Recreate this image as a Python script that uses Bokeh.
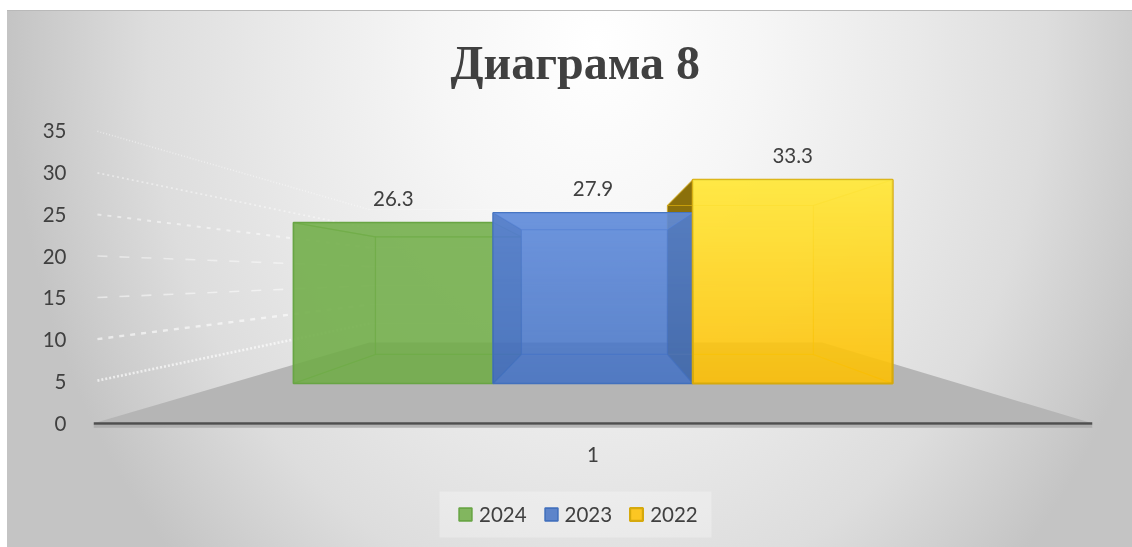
import numpy as np
from bokeh.plotting import figure
from bokeh.embed import file_html
from bokeh.resources import INLINE
from bokeh.models import Range1d, FixedTicker, Legend, LegendItem, ColumnDataSource
from bokeh.core.properties import value

# ---- data
series = ["2024", "2023", "2022"]
values = [26.3, 27.9, 33.3]
category = [1]
y_ticks = [0, 5, 10, 15, 20, 25, 30, 35]
title_text = "Диаграма 8"

# ---- styles
front_colors = ["#70ad47", "#4472c4", "#ffc000"]
edge_colors = ["#68a544", "#4270bd", "#d6a90c"]
side_colors = ["#5f9a3a", "#3a62ac", "#e8b400"]
floor_face = ["#5f9a3a", "#3f68b0", "#e2ae00"]
grid_styles = {5: ("2 2", 2.6, .65), 10: ("5 6", 2.4, .6), 15: ("10 12", 1.6, .5), 20: ("10 12", 1.6, .45),
               25: ("4 6", 2.0, .5), 30: ("2 3", 1.8, .45), 35: ("1 2", 1.6, .45)}
TXT = "#404040"
FONT = "Lato"

# ---- layout of the page, in pixels
FIG_L, FIG_T = 7, 10
FIG_W, FIG_H = 1125, 537
FRAME_L, FRAME_R, FRAME_T, FRAME_B = 76, 1132, 100, 541
PX_PER_X, PX_PER_Y = 998.5, 8.371
X1_PX, Y0_PX = 592.5, 423
LEG_BOX = (439, 711, 491, 537)

def dx(px_x):
    return 1 + (px_x - X1_PX) / PX_PER_X

def dy(px_y):
    return (Y0_PX - px_y) / PX_PER_Y

# ---- perspective of the 3-D box, in data units
VX, VY = 1.0053, 17.68          # vanishing point
BASE, K = 4.778, 0.731          # floor height and value scale of the bar's front plane
S_AXIS, S_FRONT, S_REAR, S_WALL = 1.368, 1.0, 0.731, 0.62
BAR_W = 0.2

def px(x, v, s):
    return VX + s * (x - VX), VY + s * (BASE + K * v - VY)

def face(x0, v0, s0, x1, v1, s1, x2, v2, s2, x3, v3, s3):
    pts = [px(x0, v0, s0), px(x1, v1, s1), px(x2, v2, s2), px(x3, v3, s3)]
    return [a for a, _ in pts], [b for _, b in pts]

p = figure(frame_width=FRAME_R - FRAME_L, frame_height=FRAME_B - FRAME_T,
           min_border_left=FRAME_L - FIG_L, min_border_right=0,
           min_border_top=FRAME_T - FIG_T, min_border_bottom=FIG_T + FIG_H - FRAME_B,
           x_range=Range1d(dx(FRAME_L), dx(FRAME_R)),
           y_range=Range1d(dy(FRAME_B), dy(FRAME_T)),
           output_backend="svg", toolbar_location=None, title=title_text)
p.styles = {
    "position": "fixed", "left": f"{FIG_L}px", "top": f"{FIG_T}px",
    "background": "linear-gradient(#b9b9b9,#b9b9b9) top/100% 1px no-repeat,"
                  "radial-gradient(ellipse 640px 800px at 590px 35px,"
                  "#ffffff 0%,#f6f6f6 25%,#e9e9e9 50%,#dddddd 70%,#cccccc 85%,#c4c4c4 92%,#c4c4c4 100%)",
}
p.background_fill_color = None
p.border_fill_color = None
p.outline_line_color = None
p.grid.visible = False

p.title.text_font = "Liberation Serif"
p.title.text_font_style = "bold"
p.title.text_font_size = "48px"
p.title.text_color = TXT
p.title.align = "left"
p.title.offset = 374
p.title.standoff = 23

ya = p.yaxis[0]
ya.ticker = FixedTicker(ticks=y_ticks)
ya.bounds = (0, 35)
ya.axis_line_color = None
ya.major_tick_line_color = None
ya.minor_tick_line_color = None
ya.major_label_standoff = 4
ya.major_label_text_font = FONT
ya.major_label_text_font_size = "20.5px"
ya.major_label_text_color = TXT

xa = p.xaxis[0]
xa.ticker = FixedTicker(ticks=category)
xa.axis_line_color = None
xa.major_tick_line_color = None
xa.minor_tick_line_color = None
xa.major_label_standoff = 10 - (FRAME_B - 430)
xa.major_label_text_font = FONT
xa.major_label_text_font_size = "20.5px"
xa.major_label_text_color = TXT

# floor
fx0 = VX + (0.5 - VX) / S_AXIS
fx1 = VX + (1.5 - VX) / S_AXIS
xs, ys = face(fx0, 0, S_AXIS, fx1, 0, S_AXIS, fx1, 0, S_WALL, fx0, 0, S_WALL)
p.patch(xs, ys, fill_color="#b5b5b5", line_color=None)

# gridlines on the left wall and on the back wall
for t in y_ticks[1:]:
    d, w, a = grid_styles[t]
    x_a, y_a = px(fx0, t, S_AXIS - 0.01)
    x_b, y_b = px(fx0, t, S_WALL)
    x_c, y_c = px(fx1, t, S_WALL)
    p.line([x_a, x_b], [y_a, y_b], line_color="white", line_alpha=a, line_width=w, line_dash=d)
    p.line([x_b, x_c], [y_b, y_c], line_color="white", line_alpha=0.25, line_width=1)

# axis line and its shadow
ax_x, ax_y = px(fx0, 0, S_AXIS), px(fx1, 0, S_AXIS)
p.line([ax_x[0], ax_y[0]], [-0.33, -0.33], line_color="#a8a8a8", line_width=3, line_alpha=0.8)
p.line([ax_x[0], ax_y[0]], [0, 0], line_color="#4f4f4f", line_width=2.5)

edges = [1 - 0.3 + i * BAR_W for i in range(3)]

def box_back(i, left=True, right=True):
    x0, x1, v = edges[i], edges[i] + BAR_W, values[i]
    c, e, fl = side_colors[i], edge_colors[i], floor_face[i]
    # rear wall
    xs, ys = face(x0, 0, S_REAR, x1, 0, S_REAR, x1, v, S_REAR, x0, v, S_REAR)
    p.patch(xs, ys, fill_color=c, fill_alpha=0.10, line_color=e, line_alpha=0.55, line_width=1.2)
    # floor
    xs, ys = face(x0, 0, S_FRONT, x1, 0, S_FRONT, x1, 0, S_REAR, x0, 0, S_REAR)
    p.patch(xs, ys, fill_color=fl, fill_alpha=0.16, line_color=e, line_alpha=0.55, line_width=1.2)
    # top
    xs, ys = face(x0, v, S_FRONT, x1, v, S_FRONT, x1, v, S_REAR, x0, v, S_REAR)
    p.patch(xs, ys, fill_color=c, fill_alpha=0.10, line_color=e, line_alpha=0.55, line_width=1.2)
    if left:
        xs, ys = face(x0, 0, S_FRONT, x0, v, S_FRONT, x0, v, S_REAR, x0, 0, S_REAR)
        p.patch(xs, ys, fill_color=c, fill_alpha=0.18, line_color=e, line_alpha=0.55, line_width=1.2)
    if right:
        xs, ys = face(x1, 0, S_FRONT, x1, v, S_FRONT, x1, v, S_REAR, x1, 0, S_REAR)
        p.patch(xs, ys, fill_color=c, fill_alpha=0.18, line_color=e, line_alpha=0.55, line_width=1.2)

def side_tint(i, alpha):
    x0, x1, v = edges[i], edges[i] + BAR_W, values[i]
    for x in (x0, x1):
        xs, ys = face(x, 0, S_FRONT, x, v, S_FRONT, x, v, S_REAR, x, 0, S_REAR)
        p.patch(xs, ys, fill_color=side_colors[i], fill_alpha=alpha, line_color=None)

def overlay(i, rgb, amax):
    x0, x1, v = edges[i], edges[i] + BAR_W, values[i]
    _, yb = px(x0, 0, S_FRONT)
    _, yt = px(x0, v, S_FRONT)
    h, w = 64, 64
    yy, xx = np.mgrid[0:h, 0:w] / 63.0
    a = amax * yy
    img = np.zeros((h, w), dtype=np.uint32)
    view = img.view(dtype=np.uint8).reshape((h, w, 4))
    view[..., 0], view[..., 1], view[..., 2] = rgb
    view[..., 3] = (a * 255).astype(np.uint8)
    p.image_rgba(image=[img], x=x0, y=yb, dw=x1 - x0, dh=yt - yb)

fronts = []
def box_front(i, width=1.6):
    x0, x1, v = edges[i], edges[i] + BAR_W, values[i]
    _, yb = px(x0, 0, S_FRONT)
    _, yt = px(x0, v, S_FRONT)
    fronts.append(p.quad(left=[x0], right=[x1], bottom=[yb], top=[yt], fill_color=front_colors[i],
                         fill_alpha=0.85, line_color=edge_colors[i], line_width=width))

# yellow's back and its left wall stand behind the blue bar
v2 = values[2]
xs, ys = face(edges[2], 0, S_FRONT, edges[2], v2, S_FRONT, edges[2], v2, S_REAR, edges[2], 0, S_REAR)
p.patch(xs, ys, fill_color="#7a6100", fill_alpha=0.95, line_color=None)
box_back(2, left=False, right=True)

box_back(0, left=True, right=False)
box_front(0)
box_back(1)
box_front(1)
overlay(1, (140, 180, 255), 0.35)
side_tint(1, 0.32)
box_front(2, width=2.2)
overlay(2, (255, 250, 90), 0.65)

# data labels
lx = [e + BAR_W / 2 for e in edges]
ly = [px(e, v, S_FRONT)[1] for e, v in zip(edges, values)]
src = ColumnDataSource(dict(x=lx, y=ly, t=[f"{v:.1f}" for v in values]))
p.text(x="x", y="y", text="t", source=src, text_align="center", text_baseline="middle", y_offset=-24,
       text_font=value(FONT), text_font_size="20.5px", text_color=TXT)

# legend band and legend
p.quad(left=[dx(LEG_BOX[0])], right=[dx(LEG_BOX[1])], bottom=[dy(LEG_BOX[3])], top=[dy(LEG_BOX[2])],
       fill_color="white", fill_alpha=0.28, line_color=None)
legend = Legend(items=[LegendItem(label=s, renderers=[r]) for s, r in zip(series, fronts)],
                orientation="horizontal", location=(381, FRAME_B - 537 + 11),
                background_fill_alpha=0, border_line_color=None,
                glyph_width=16, glyph_height=16, label_standoff=6, spacing=16, padding=10, margin=0,
                label_text_font=FONT, label_text_font_size="20.5px", label_text_color=TXT,
                label_height=24)
p.add_layout(legend, "center")

open("out.html", "w").write(file_html(p, INLINE))
